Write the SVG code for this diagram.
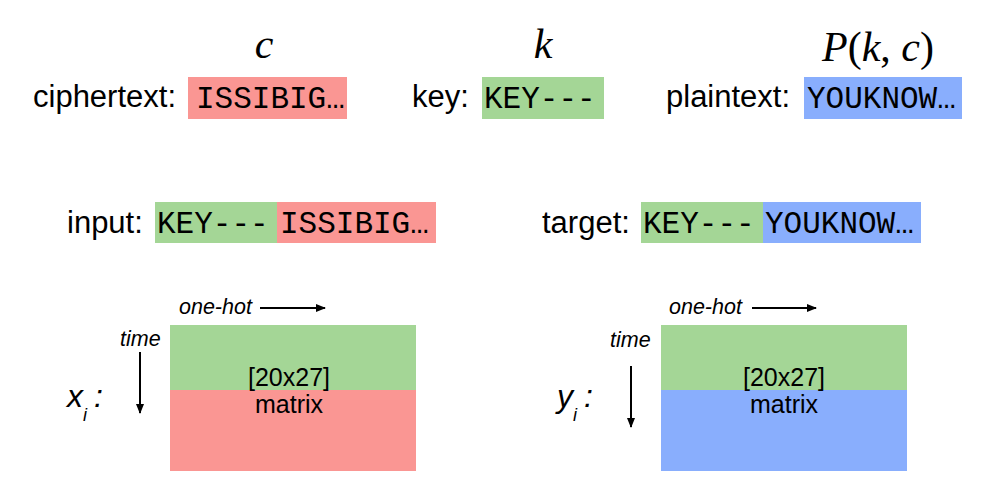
<svg xmlns="http://www.w3.org/2000/svg" width="1000" height="500" viewBox="0 0 1000 500">
<style>
.lbl{font-family:"Liberation Sans",Arial,sans-serif;font-size:31px;fill:#000}
.mono{font-family:"Liberation Mono","Courier New",monospace;font-size:31px;fill:#000}
.math{font-family:"Liberation Serif","Times New Roman",serif;font-size:42px;fill:#000}
.it{font-family:"Liberation Sans",Arial,sans-serif;font-style:italic;fill:#000}
.mid{font-family:"Liberation Sans",Arial,sans-serif;font-size:25px;fill:#000;text-anchor:middle}
.red{fill:#FA9693}.green{fill:#A4D696}.blue{fill:#89AEFD}
.arr{stroke:#000;stroke-width:2;fill:none;marker-end:url(#ah)}
</style>
<defs>
<marker id="ah" markerWidth="10" markerHeight="8" refX="9" refY="4" orient="auto" markerUnits="userSpaceOnUse">
<path d="M0,0 L10,4 L0,8 z" fill="#000"/>
</marker>
</defs>
<rect width="1000" height="500" fill="#fff"/>

<g id="math-labels">
<text class="math" x="264" y="58" text-anchor="middle" font-style="italic">c</text>
<text class="math" x="543" y="58" text-anchor="middle" font-style="italic">k</text>
<text class="math" x="878" y="61" text-anchor="middle" font-size="45"><tspan font-style="italic">P</tspan>(<tspan font-style="italic">k</tspan>, <tspan font-style="italic">c</tspan>)</text>
</g>

<g id="ciphertext">
<text class="lbl" x="33" y="107">ciphertext:</text>
<rect class="red" x="188" y="77" width="159" height="42"/>
<text class="mono" x="196" y="108">ISSIBIG…</text>
</g>

<g id="key">
<text class="lbl" x="412" y="107">key:</text>
<rect class="green" x="482" y="77" width="122" height="42"/>
<text class="mono" x="484" y="108">KEY---</text>
</g>

<g id="plaintext">
<text class="lbl" x="666" y="107">plaintext:</text>
<rect class="blue" x="804" y="77" width="158" height="42"/>
<text class="mono" x="807" y="108">YOUKNOW…</text>
</g>

<g id="input">
<text class="lbl" x="67" y="233">input:</text>
<rect class="green" x="155" y="202" width="122" height="41"/>
<rect class="red" x="277" y="202" width="159" height="41"/>
<text class="mono" x="157" y="233">KEY---</text>
<text class="mono" x="280" y="233">ISSIBIG…</text>
</g>

<g id="target">
<text class="lbl" x="542" y="233">target:</text>
<rect class="green" x="641" y="202" width="122" height="41"/>
<rect class="blue" x="763" y="202" width="158" height="41"/>
<text class="mono" x="643" y="233">KEY---</text>
<text class="mono" x="765" y="233">YOUKNOW…</text>
</g>

<g id="matrix-x">
<rect class="green" x="170" y="325" width="246" height="65"/>
<rect class="red" x="170" y="390" width="246" height="81"/>
<text class="mid" x="289" y="386">[20x27]</text>
<text class="mid" x="289" y="413">matrix</text>
<text class="it" x="179" y="314" font-size="21.5">one-hot</text>
<text class="it" x="120" y="346" font-size="21.5">time</text>
<text class="it" x="67" y="407" font-size="32">x</text>
<text class="it" x="83" y="421" font-size="18">i</text>
<text class="it" x="94" y="407" font-size="32">:</text>
</g>

<g id="matrix-y">
<rect class="green" x="661" y="325" width="246" height="65"/>
<rect class="blue" x="661" y="390" width="246" height="81"/>
<text class="mid" x="784" y="386">[20x27]</text>
<text class="mid" x="784" y="413">matrix</text>
<text class="it" x="669" y="314" font-size="21.5">one-hot</text>
<text class="it" x="610" y="347" font-size="21.5">time</text>
<text class="it" x="557" y="407" font-size="32">y</text>
<text class="it" x="573" y="421" font-size="18">i</text>
<text class="it" x="584" y="407" font-size="32">:</text>
</g>

<g id="connectors">
<line class="arr" x1="260" y1="308" x2="325" y2="308"/>
<line class="arr" x1="140" y1="352" x2="140" y2="413"/>
<line class="arr" x1="752" y1="308" x2="816" y2="308"/>
<line class="arr" x1="631" y1="366" x2="631" y2="427"/>
</g>
</svg>
